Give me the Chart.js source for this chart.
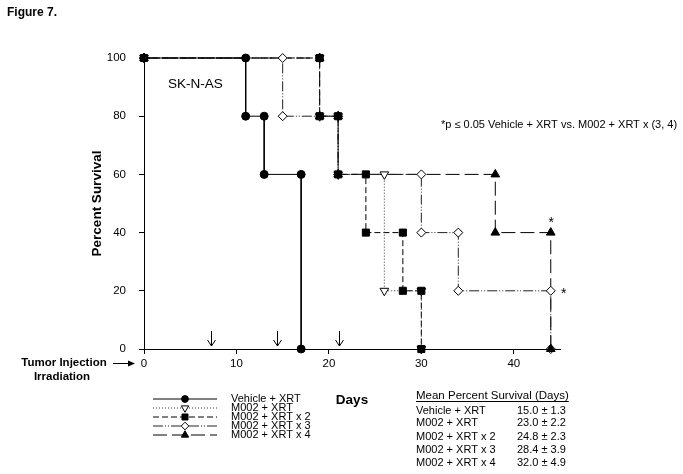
<!DOCTYPE html>
<html lang="en">
<head>
<meta charset="UTF-8">
<title>Figure 7 - SK-N-AS survival</title>
<script src="https://cdn.jsdelivr.net/npm/chart.js@4"></script>
<style>
  html, body { margin: 0; padding: 0; background: #fff; }
</style>
</head>
<body>
<canvas id="survivalChart" width="683" height="474"></canvas>
<script>
// values (Kaplan-Meier corners, days vs percent survival)
const seriesNames = ['Vehicle + XRT', 'M002 + XRT', 'M002 + XRT x 2', 'M002 + XRT x 3', 'M002 + XRT x 4'];

const vehicleDays = [0, 11, 11, 13, 13, 17, 17];
const vehicleSurv = [100, 100, 80, 80, 60, 60, 0];

const m002Days = [0, 19, 19, 21, 21, 26, 26, 30, 30];
const m002Surv = [100, 100, 80, 80, 60, 60, 20, 20, 0];

const x2Days = [0, 19, 19, 21, 21, 24, 24, 28, 28, 30, 30];
const x2Surv = [100, 100, 80, 80, 60, 60, 40, 40, 20, 20, 0];

const x3Days = [0, 15, 15, 21, 21, 30, 30, 34, 34, 44, 44];
const x3Surv = [100, 100, 80, 80, 60, 60, 40, 40, 20, 20, 0];

const x4Days = [0, 19, 19, 21, 21, 38, 38, 44, 44];
const x4Surv = [100, 100, 80, 80, 60, 60, 40, 40, 0];

const meanDays = [15.0, 23.0, 24.8, 28.4, 32.0];
const meanErr = [1.3, 2.2, 2.3, 3.9, 4.9];

const xTickValues = [0, 10, 20, 30, 40];
const yTickValues = [0, 20, 40, 60, 80, 100];
const irradiationDays = [7.2, 14.4, 21.1];
// significant groups marked with * at their last point
const starDay = 44;
const starSurv = [40, 20];

const allDays = [vehicleDays, m002Days, x2Days, x3Days, x4Days];
const allSurv = [vehicleSurv, m002Surv, x2Surv, x3Surv, x4Surv];

const FONT = "'Liberation Sans', Arial, sans-serif";

// look of each group
const looks = [
  { dash: [], color: '#000', style: 'circle', radius: 4, rotation: 0, fill: '#000', markOrder: 0 },
  { dash: [1, 2], color: '#333', style: 'triangle', radius: 5, rotation: 180, fill: '#fff', markOrder: 3 },
  { dash: [6, 3], color: '#000', style: 'rect', radius: 5, rotation: 0, fill: '#000', markOrder: 1 },
  { dash: [10, 2, 1, 2, 1, 2], color: '#222', style: 'rectRot', radius: 4.5, rotation: 0, fill: '#fff', markOrder: 4 },
  { dash: [14, 5], color: '#000', style: 'triangle', radius: 5, rotation: 0, fill: '#000', markOrder: 2 }
];

const datasets = [];
seriesNames.forEach((name, i) => {
  const pts = allDays[i].map((d, k) => ({ x: d, y: allSurv[i][k] }));
  const lk = looks[i];
  // step line
  datasets.push({
    label: name,
    data: pts,
    showLine: true,
    borderColor: lk.color,
    borderWidth: 1,
    borderDash: lk.dash,
    pointRadius: 0,
    order: 10 + i,
    clip: false
  });
  // markers on top of every line
  datasets.push({
    label: name + ' markers',
    data: pts,
    showLine: false,
    pointStyle: lk.style,
    pointRadius: lk.radius,
    pointRotation: lk.rotation,
    pointBackgroundColor: lk.fill,
    pointBorderColor: '#000',
    pointBorderWidth: 1,
    order: lk.markOrder,
    clip: false
  });
});

function drawMarker(ctx, lk, x, y, k) {
  ctx.save();
  ctx.fillStyle = lk.fill;
  ctx.strokeStyle = '#000';
  ctx.lineWidth = 1;
  ctx.setLineDash([]);
  Chart.helpers.drawPoint(ctx, { pointStyle: lk.style, radius: lk.radius * k, rotation: lk.rotation, borderWidth: 1 }, x, y);
  ctx.restore();
}

const figureText = {
  id: 'figureText',
  afterDraw(chart) {
    const ctx = chart.ctx;
    const xs = chart.scales.x, ys = chart.scales.y;
    const area = chart.chartArea;
    ctx.save();
    ctx.fillStyle = '#000';
    ctx.strokeStyle = '#000';
    ctx.textBaseline = 'middle';

    ctx.font = 'bold 12px ' + FONT;
    ctx.textAlign = 'left';
    ctx.fillText('Figure 7.', 7, 13);

    ctx.font = '13.5px ' + FONT;
    ctx.fillText('SK-N-AS', 168, 84);

    ctx.font = '11px ' + FONT;
    ctx.fillText('*p \u2264 0.05 Vehicle + XRT vs. M002 + XRT x (3, 4)', 441, 125);

    // axis titles
    ctx.font = 'bold 13.5px ' + FONT;
    ctx.textAlign = 'center';
    ctx.fillText('Days', (area.left + area.right) / 2, 400);
    ctx.save();
    ctx.translate(97, (area.top + area.bottom) / 2);
    ctx.rotate(-Math.PI / 2);
    ctx.fillText('Percent Survival', 0, 0);
    ctx.restore();

    // tumor injection / irradiation labels
    ctx.font = 'bold 11.5px ' + FONT;
    ctx.fillText('Tumor Injection', 64, 363);
    ctx.fillText('Irradiation', 62, 377);
    ctx.lineWidth = 1;
    ctx.beginPath();
    ctx.moveTo(113, 363.5);
    ctx.lineTo(129, 363.5);
    ctx.stroke();
    ctx.beginPath();
    ctx.moveTo(135, 363.5);
    ctx.lineTo(128, 360.5);
    ctx.lineTo(128, 366.5);
    ctx.closePath();
    ctx.fill();

    // irradiation arrows
    irradiationDays.forEach(d => {
      const px = Math.round(xs.getPixelForValue(d)) + 0.5;
      const bot = area.bottom - 3;
      ctx.beginPath();
      ctx.moveTo(px, bot - 15);
      ctx.lineTo(px, bot);
      ctx.moveTo(px - 4, bot - 6);
      ctx.lineTo(px, bot);
      ctx.lineTo(px + 4, bot - 6);
      ctx.stroke();
    });

    // significance stars
    ctx.font = '14px ' + FONT;
    ctx.textBaseline = 'alphabetic';
    const sx = xs.getPixelForValue(starDay);
    ctx.fillText('*', sx + 0.5, ys.getPixelForValue(starSurv[0]) - 6);
    ctx.fillText('*', sx + 13, ys.getPixelForValue(starSurv[1]) + 7);

    // legend (text is a bit squat in the original)
    ctx.textBaseline = 'middle';
    ctx.font = '11px ' + FONT;
    const legendRows = [399, 408, 417, 426, 435];
    seriesNames.forEach((name, i) => {
      const lk = looks[i];
      const y = legendRows[i];
      ctx.save();
      ctx.strokeStyle = lk.color;
      ctx.setLineDash(lk.dash);
      ctx.beginPath();
      ctx.moveTo(153, y);
      ctx.lineTo(217, y);
      ctx.stroke();
      ctx.restore();
      drawMarker(ctx, lk, 185, y, 0.85);
      ctx.save();
      ctx.translate(231, y + 0.5);
      ctx.scale(1, 0.92);
      ctx.textAlign = 'left';
      ctx.fillText(name, 0, 0);
      ctx.restore();
    });

    // mean survival table
    ctx.font = '11.5px ' + FONT;
    ctx.textAlign = 'left';
    const head = 'Mean Percent Survival (Days)';
    ctx.fillText(head, 416, 396);
    const hw = ctx.measureText(head).width;
    ctx.beginPath();
    ctx.moveTo(416, 401.5);
    ctx.lineTo(416 + hw, 401.5);
    ctx.stroke();
    ctx.font = '11px ' + FONT;
    const tableRows = [410.7, 423.3, 436.7, 450, 462.7];
    seriesNames.forEach((name, i) => {
      ctx.fillText(name, 416, tableRows[i]);
      ctx.fillText(meanDays[i].toFixed(1) + ' \u00b1 ' + meanErr[i].toFixed(1), 517, tableRows[i]);
    });
    ctx.restore();
  }
};

const tickFont = { family: FONT, size: 11.5 };

new Chart(document.getElementById('survivalChart'), {
  type: 'scatter',
  data: { datasets: datasets },
  options: {
    responsive: false,
    animation: false,
    events: [],
    layout: { padding: { left: 0, top: 58, right: 123, bottom: 105 } },
    plugins: { legend: { display: false }, tooltip: { enabled: false } },
    scales: {
      x: {
        type: 'linear',
        min: 0,
        max: 45,
        afterBuildTicks: s => { s.ticks = xTickValues.map(v => ({ value: v })); },
        afterFit: s => { s.height = 20; },
        ticks: { font: tickFont, color: '#000', padding: 3, maxRotation: 0 },
        grid: { drawOnChartArea: false, drawTicks: true, tickLength: 5, color: '#000' },
        border: { color: '#000', width: 1 }
      },
      y: {
        type: 'linear',
        min: 0,
        max: 100,
        afterBuildTicks: s => { s.ticks = yTickValues.map(v => ({ value: v })); },
        afterFit: s => { s.width = 144; },
        ticks: { font: tickFont, color: '#000', padding: 13 },
        grid: { drawOnChartArea: false, drawTicks: true, tickLength: 5, color: '#000' },
        border: { color: '#000', width: 1 }
      }
    }
  },
  plugins: [figureText]
});
</script>
</body>
</html>
